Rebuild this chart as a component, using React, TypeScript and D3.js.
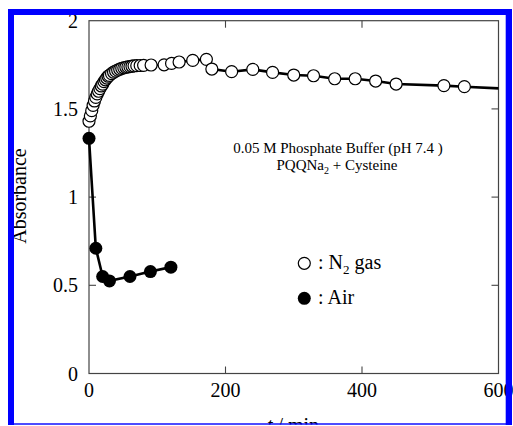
import React from 'react';
import * as d3 from 'd3';

// N2 gas series (open circles); the last entry lies beyond the axis and is clipped
const n2Time = [0, 2, 4, 6, 8, 10, 12, 14, 16, 18, 20, 22, 24, 26, 28, 30, 33, 36, 39, 42, 45, 48, 51, 54, 57, 60, 63, 66, 70, 75, 80, 91, 110, 121, 132, 152, 172, 180, 209, 240, 269, 300, 329, 360, 390, 420, 450, 520, 550, 612];
const n2Abs = [1.43, 1.46, 1.49, 1.52, 1.545, 1.565, 1.585, 1.6, 1.615, 1.63, 1.64, 1.655, 1.665, 1.675, 1.685, 1.69, 1.7, 1.708, 1.714, 1.72, 1.725, 1.73, 1.733, 1.736, 1.738, 1.74, 1.742, 1.744, 1.745, 1.746, 1.747, 1.749, 1.75, 1.758, 1.766, 1.775, 1.781, 1.726, 1.711, 1.724, 1.707, 1.692, 1.688, 1.671, 1.671, 1.658, 1.641, 1.632, 1.626, 1.614];

// Air series (filled circles)
const airTime = [0, 10, 20, 30, 60, 90, 120];
const airAbs = [1.333, 0.71, 0.55, 0.525, 0.55, 0.578, 0.603];

const xTicks = [0, 200, 400, 600];
const xTickLabels = ['0', '200', '400', '600'];
const yTicks = [0, 0.5, 1, 1.5, 2];
const yTickLabels = ['0', '0.5', '1', '1.5', '2'];

const FONT = "'Liberation Serif', 'Times New Roman', serif";

export default function App() {
  const W = 513, H = 426;
  const x = d3.scaleLinear().domain([0, 600]).range([89, 498.5]);
  const y = d3.scaleLinear().domain([0, 2]).range([373.5, 20.7]);
  const [x0, x1] = x.range();
  const [y0, y1] = y.range();

  const n2 = n2Time.map((t, i) => [t, n2Abs[i]] as [number, number]);
  const air = airTime.map((t, i) => [t, airAbs[i]] as [number, number]);
  const line = d3.line<[number, number]>().x(d => x(d[0])).y(d => y(d[1]));

  const tickLen = 7;
  const axisColor = '#444';

  return (
    <svg width={W} height={H} style={{ position: 'absolute', left: 0, top: 0, background: '#fff' }}
      fontFamily={FONT}>
      <defs>
        <clipPath id="plotclip">
          <rect x={0} y={0} width={x1} height={H} />
        </clipPath>
      </defs>
      <rect x={0} y={0} width={W} height={H} fill="#fff" />

      {/* frame */}
      <rect x={x0} y={y1} width={x1 - x0} height={y0 - y1} fill="none" stroke={axisColor} strokeWidth={1.2} />
      {/* ticks */}
      {xTicks.slice(1, -1).map(t => (
        <g key={'xt' + t}>
          <line x1={x(t)} x2={x(t)} y1={y0} y2={y0 - tickLen} stroke={axisColor} strokeWidth={1.1} />
          <line x1={x(t)} x2={x(t)} y1={y1} y2={y1 + tickLen} stroke={axisColor} strokeWidth={1.1} />
        </g>
      ))}
      {yTicks.slice(1, -1).map(v => (
        <g key={'yt' + v}>
          <line x1={x0} x2={x0 + tickLen} y1={y(v)} y2={y(v)} stroke={axisColor} strokeWidth={1.1} />
          <line x1={x1} x2={x1 - tickLen} y1={y(v)} y2={y(v)} stroke={axisColor} strokeWidth={1.1} />
        </g>
      ))}

      {/* tick labels */}
      {yTicks.map((v, i) => (
        <text key={'yl' + v} x={78} y={y(v)} dy="0.35em" textAnchor="end" fontSize={20} fill="#000">{yTickLabels[i]}</text>
      ))}
      {xTicks.map((t, i) => (
        <text key={'xl' + t} x={x(t)} y={397} textAnchor="middle" fontSize={20} fill="#000">{xTickLabels[i]}</text>
      ))}

      {/* axis titles */}
      <text transform="translate(26,196) rotate(-90)" textAnchor="middle" fontSize={20} fill="#000">Absorbance</text>
      <text x={293} y={432} textAnchor="middle" fontSize={20} fill="#000"><tspan fontStyle="italic">t</tspan> / min</text>

      {/* data */}
      <g clipPath="url(#plotclip)">
        <path d={line(n2) || ''} fill="none" stroke="#000" strokeWidth={2.6} />
        <path d={line(air) || ''} fill="none" stroke="#000" strokeWidth={2.6} />
        {n2.map((d, i) => (
          <circle key={'n' + i} cx={x(d[0])} cy={y(d[1])} r={6} fill="#fff" stroke="#000" strokeWidth={1.2} />
        ))}
        {air.map((d, i) => (
          <circle key={'a' + i} cx={x(d[0])} cy={y(d[1])} r={6.5} fill="#000" />
        ))}
      </g>

      {/* annotation */}
      <text x={338} y={153} textAnchor="middle" fontSize={15} fill="#000">0.05 M Phosphate Buffer (pH 7.4 )</text>
      <text x={337} y={170} textAnchor="middle" fontSize={15} fill="#000">PQQNa<tspan fontSize={10} dy={4}>2</tspan><tspan dy={-4}> + Cysteine</tspan></text>

      {/* legend */}
      <circle cx={304.3} cy={263.3} r={6} fill="#fff" stroke="#000" strokeWidth={1.2} />
      <text x={318} y={269} fontSize={20} fill="#000">: N<tspan fontSize={13} dy={5}>2</tspan><tspan dy={-5}> gas</tspan></text>
      <circle cx={304.3} cy={298.3} r={6.5} fill="#000" />
      <text x={318} y={304} fontSize={20} fill="#000">: Air</text>

      {/* blue border */}
      <rect x={0} y={424.5} width={W} height={H - 424.5} fill="#fff" />
      <rect x={8} y={9} width={6} height={416} fill="#0000ff" />
      <rect x={8} y={9} width={504} height={6} fill="#0000ff" />
      <rect x={505.7} y={9} width={6.3} height={416} fill="#0000ff" />
      <rect x={8} y={423.3} width={504} height={1.4} fill="#0000ff" />
    </svg>
  );
}
